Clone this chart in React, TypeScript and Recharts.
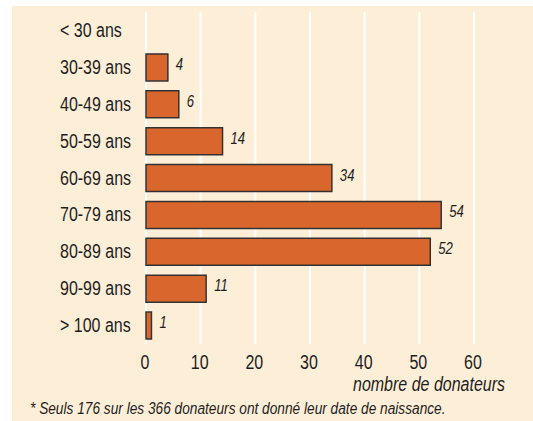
import { Bar, BarChart, CartesianGrid, LabelList, XAxis, YAxis } from "recharts"

const ageGroups = [
  "< 30 ans",
  "30-39 ans",
  "40-49 ans",
  "50-59 ans",
  "60-69 ans",
  "70-79 ans",
  "80-89 ans",
  "90-99 ans",
  "> 100 ans",
]
const donors = [0, 4, 6, 14, 34, 54, 52, 11, 1]
const xTicks = [0, 10, 20, 30, 40, 50, 60]

const data = ageGroups.map((name, i) => ({ name, value: donors[i] }))

const FONT = "'Liberation Sans', Arial, sans-serif"
const SQUEEZE = 0.82

// narrow (Arial Narrow look) text: regular font squeezed horizontally
function NarrowText(props: any) {
  const { x, y, children, anchor = "start", size = 19, italic = false, fill = "#1e1e1e" } = props
  return (
    <text
      transform={`translate(${x},${y}) scale(${SQUEEZE},1)`}
      textAnchor={anchor}
      fontFamily={FONT}
      fontSize={size}
      fontStyle={italic ? "italic" : "normal"}
      fill={fill}
      dominantBaseline="central"
    >
      {children}
    </text>
  )
}

const CategoryTick = (props: any) => {
  const { y, payload } = props
  return (
    <NarrowText x={60} y={y} size={19.5}>
      {payload.value}
    </NarrowText>
  )
}

const ValueTick = (props: any) => {
  const { x, y, payload } = props
  return (
    <NarrowText x={x - 1} y={y + 10} size={19.5} anchor="middle">
      {payload.value}
    </NarrowText>
  )
}

const ValueLabel = (props: any) => {
  const { x, y, width, height, value } = props
  if (!value) return null
  return (
    <NarrowText x={x + width + 8} y={y + height / 2 - 3} size={16} italic>
      {value}
    </NarrowText>
  )
}

export default function App() {
  return (
    <div style={{ position: "absolute", left: 0, top: 0, width: 533, height: 421, background: "#fff" }}>
      <div
        style={{ position: "absolute", left: 12, top: 6, width: 521, height: 415, background: "#fdeed8" }}
      />
      <div style={{ position: "absolute", left: 0, top: 0 }}>
        <BarChart
          width={533}
          height={421}
          data={data}
          layout="vertical"
          margin={{ top: 12, right: 59, bottom: 47, left: 0 }}
          barSize={27}
        >
          <CartesianGrid horizontal={false} stroke="#ffffff" strokeWidth={2} />
          <XAxis
            type="number"
            domain={[0, 60]}
            ticks={xTicks}
            axisLine={false}
            tickLine={false}
            tick={<ValueTick />}
            interval={0}
            height={30}
          />
          <YAxis
            type="category"
            dataKey="name"
            width={146}
            axisLine={false}
            tickLine={false}
            tick={<CategoryTick />}
            interval={0}
          />
          <Bar dataKey="value" fill="#d9662c" stroke="#333" strokeWidth={1.5} isAnimationActive={false}>
            <LabelList dataKey="value" content={<ValueLabel />} />
          </Bar>
        </BarChart>
      </div>
      <svg style={{ position: "absolute", left: 0, top: 0 }} width={533} height={421}>
        <NarrowText x={505} y={384} size={19.5} italic anchor="end">
          nombre de donateurs
        </NarrowText>
        <NarrowText x={30} y={408} size={16.7} italic>
          * Seuls 176 sur les 366 donateurs ont donné leur date de naissance.
        </NarrowText>
      </svg>
    </div>
  )
}
